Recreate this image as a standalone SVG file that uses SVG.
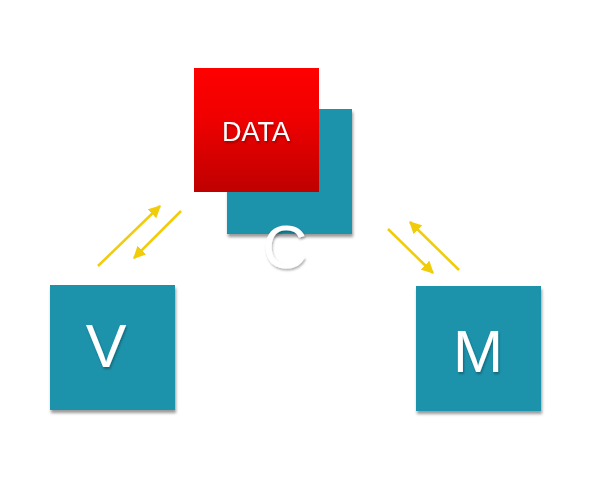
<svg xmlns="http://www.w3.org/2000/svg" width="599" height="479" viewBox="0 0 599 479">
<style>
.sq{fill:#1a92ab;filter:url(#sh)}
.lbl{font-family:"Liberation Sans",Arial,sans-serif;fill:#fff;text-anchor:middle;filter:url(#ts)}
.ar{stroke:#f0cc0a;stroke-width:2.5;fill:none;marker-end:url(#ah)}
</style>
<defs>
<linearGradient id="rg" x1="0" y1="0" x2="0" y2="1">
<stop offset="0" stop-color="#ff0000"/>
<stop offset="0.4" stop-color="#f00000"/>
<stop offset="1" stop-color="#bf0000"/>
</linearGradient>
<filter id="sh" x="-10%" y="-10%" width="125%" height="125%">
<feDropShadow dx="1" dy="3" stdDeviation="1.5" flood-color="#000" flood-opacity="0.4"/>
</filter>
<filter id="ts" x="-20%" y="-20%" width="150%" height="150%">
<feDropShadow dx="1" dy="2" stdDeviation="1" flood-color="#000" flood-opacity="0.3"/>
</filter>
<marker id="ah" viewBox="0 0 10 10" refX="9" refY="5" markerWidth="5" markerHeight="5" orient="auto" markerUnits="strokeWidth">
<path d="M0,0 L10,5 L0,10 z" fill="#f0cc0a"/>
</marker>
</defs>
<g id="C">
<rect class="sq" x="227" y="109" width="125" height="125"/>
<text class="lbl" x="285" y="268" font-size="62">C</text>
</g>
<g id="DATA">
<rect x="194" y="68" width="125" height="124" fill="url(#rg)"/>
<text class="lbl" x="256" y="141" font-size="27">DATA</text>
</g>
<g id="V">
<rect class="sq" x="50" y="285" width="125" height="125"/>
<text class="lbl" x="106" y="367" font-size="61">V</text>
</g>
<g id="M">
<rect class="sq" x="416" y="286" width="125" height="125"/>
<text class="lbl" x="478" y="372" font-size="60">M</text>
</g>
<g id="connectors">
<line class="ar" x1="98" y1="266" x2="160" y2="206"/>
<line class="ar" x1="181" y1="211" x2="134" y2="258"/>
<line class="ar" x1="388" y1="229" x2="433" y2="273"/>
<line class="ar" x1="459" y1="270" x2="410" y2="222"/>
</g>
</svg>
